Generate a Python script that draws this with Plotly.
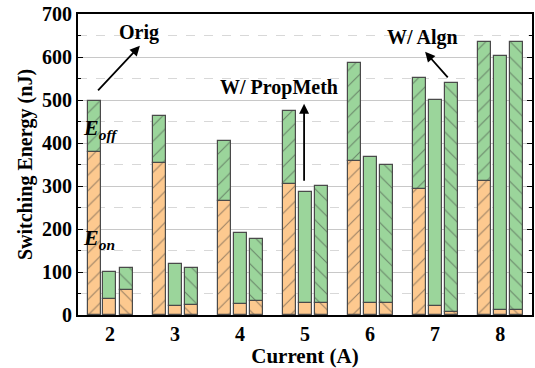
import plotly.graph_objects as go

# Switching energy per load current, split into turn-on (Eon) and turn-off (Eoff) parts
currents = [2, 3, 4, 5, 6, 7, 8]

orig_eon = [380, 353, 264, 305, 357, 292, 312]
orig_total = [498, 463, 405, 474, 587, 552, 636]

prop_eon = [37, 21, 26, 27, 27, 20, 11]
prop_total = [100, 119, 190, 286, 367, 501, 602]

algn_eon = [59, 23, 32, 29, 29, 8, 11]
algn_total = [109, 110, 176, 299, 349, 539, 636]

ORANGE = "#FDC98F"
GREEN = "#9BD59B"
EDGE = "#4a4a4a"
FONT = "Liberation Serif"

series = [
    ("Orig", orig_eon, orig_total, -0.24, "/"),
    ("W/ PropMeth", prop_eon, prop_total, 0.0, ""),
    ("W/ Algn", algn_eon, algn_total, 0.25, "\\"),
]

fig = go.Figure()
for name, eon, total, shift, hatch in series:
    xs = [c + shift for c in currents]
    eoff = [t - e for t, e in zip(total, eon)]
    for vals, base, color, part in ((eon, None, ORANGE, "Eon"), (eoff, eon, GREEN, "Eoff")):
        fig.add_trace(go.Bar(
            x=xs, y=vals, base=base, width=0.2, name=f"{name} {part}",
            marker=dict(color=color, line=dict(color=EDGE, width=1.2),
                        pattern=dict(shape=hatch, fgcolor="#3a3a3a", size=11, solidity=0.1)),
            showlegend=False,
        ))

bold = dict(family=FONT, size=20, color="black")

fig.update_layout(
    width=535, height=368,
    margin=dict(l=78, r=3, t=14, b=53),
    paper_bgcolor="white", plot_bgcolor="white",
    barmode="overlay",
    bargap=0,
    font=dict(family=FONT, color="black", size=20),
    xaxis=dict(
        automargin=False,
        range=[1.508, 8.49], tickmode="array", tickvals=currents,
        ticktext=[f"<b>{c}</b>" for c in currents],
        tickfont=dict(family=FONT, size=20, color="black"), ticks="",
        showline=True, linecolor="black", linewidth=2, mirror=True,
        showgrid=False, zeroline=False,
        title=dict(text="<b>Current (A)</b>", font=dict(family=FONT, size=21, color="black")),
    ),
    yaxis=dict(
        automargin=False,
        range=[0, 700], tickmode="array", tickvals=list(range(0, 701, 100)),
        ticktext=[f"<b>{v}</b>" for v in range(0, 701, 100)],
        tickfont=dict(family=FONT, size=20, color="black"),
        ticks="inside", ticklen=5, tickwidth=1.2, tickcolor="black",
        showline=True, linecolor="black", linewidth=2, mirror="ticks",
        showgrid=True, gridcolor="#C8C8C8", gridwidth=1, zeroline=False,
        minor=dict(tickvals=list(range(50, 700, 100)), ticks="inside", ticklen=3,
                   tickcolor="black", showgrid=True, gridcolor="#D8D8D8",
                   griddash="dash", gridwidth=1),
        title=dict(text="<b>Switching Energy (nJ)</b>", font=bold, standoff=4),
    ),
)

arrow = dict(showarrow=True, arrowhead=2, arrowsize=1.1, arrowwidth=1.8,
             arrowcolor="black", axref="x", ayref="y", text="")
fig.add_annotation(x=2.46, y=626, ax=1.795, ay=519, **arrow)
fig.add_annotation(x=4.985, y=491, ax=4.985, ay=309, **arrow)
fig.add_annotation(x=6.846, y=612, ax=7.215, ay=549, **arrow)

label = dict(showarrow=False, font=dict(family=FONT, size=20, color="black"))
fig.add_annotation(x=2.45, y=656, text="<b>Orig</b>", **label)
fig.add_annotation(x=4.6, y=528, text="<b>W/ PropMeth</b>", **label)
fig.add_annotation(x=6.8, y=646, text="<b>W/ Algn</b>", **label)
fig.add_annotation(x=1.55, y=432, xanchor="left",
                   text="<b><i>E<sub>off</sub></i></b>",
                   showarrow=False, font=dict(family=FONT, size=22, color="black"))
fig.add_annotation(x=1.55, y=177, xanchor="left",
                   text="<b><i>E<sub>on</sub></i></b>",
                   showarrow=False, font=dict(family=FONT, size=22, color="black"))

fig.write_html("out.html")
